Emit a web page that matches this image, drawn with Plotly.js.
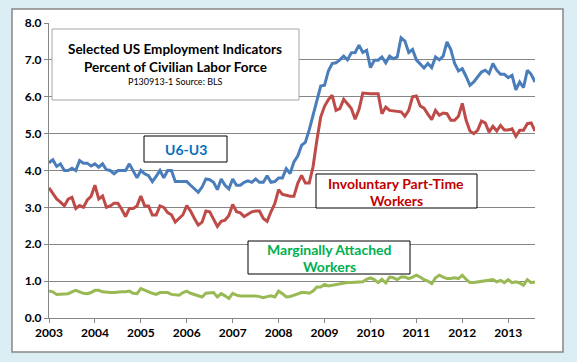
<!DOCTYPE html>
<html>
<head>
<meta charset="utf-8">
<script src="https://cdn.plot.ly/plotly-3.0.1.min.js"></script>
<style>html,body{margin:0;padding:0;background:#dbeef4;}#chart{width:577px;height:362px;}</style>
</head>
<body>
<div id="chart"></div>
<script>
// Monthly data, Jan 2003 .. Aug 2013 (percent of civilian labor force)
const startYear = 2003;
const yearTicks = [2003, 2004, 2005, 2006, 2007, 2008, 2009, 2010, 2011, 2012, 2013];
const yTicks = [0, 1, 2, 3, 4, 5, 6, 7, 8];
const yTickLabels = ["0.0", "1.0", "2.0", "3.0", "4.0", "5.0", "6.0", "7.0", "8.0"];

const u6MinusU3 = [
  4.21, 4.29, 4.11, 4.18, 4.00, 4.00, 4.06, 4.00, 4.27, 4.20, 4.20, 4.12,
  4.18, 4.09, 4.18, 4.02, 4.00, 3.91, 4.00, 4.00, 4.00, 4.18, 4.00, 3.80,
  4.00, 3.91, 3.86, 3.70, 3.84, 4.00, 3.80, 4.00, 4.00, 3.70, 3.70, 3.70,
  3.70, 3.60, 3.50, 3.41, 3.55, 3.77, 3.75, 3.68, 3.48, 3.77, 3.60, 3.50,
  3.77, 3.60, 3.60, 3.68, 3.72, 3.68, 3.77, 3.68, 3.68, 3.86, 3.68, 3.70,
  3.80, 3.80, 4.05, 3.92, 4.23, 4.39, 4.68, 4.77, 5.10, 5.50, 5.86, 6.29,
  6.31, 6.70, 6.90, 6.92, 7.00, 7.10, 7.00, 7.19, 7.20, 7.40, 7.20, 7.26,
  6.79, 6.99, 6.99, 7.08, 6.92, 7.10, 7.03, 7.08, 7.60, 7.51, 7.20, 7.28,
  7.00, 6.90, 6.78, 6.90, 6.79, 7.08, 7.00, 7.10, 7.49, 7.28, 6.90, 6.70,
  6.76, 6.55, 6.31, 6.40, 6.54, 6.67, 6.72, 6.63, 6.90, 6.72, 6.61, 6.61,
  6.52, 6.58, 6.19, 6.40, 6.25, 6.72, 6.61, 6.40
];
const involuntaryPartTime = [
  3.53, 3.38, 3.23, 3.14, 3.04, 3.22, 3.27, 2.97, 3.05, 3.00, 3.20, 3.30,
  3.60, 3.23, 3.31, 3.00, 3.04, 3.11, 3.11, 2.95, 2.75, 2.97, 2.97, 3.04,
  3.31, 3.04, 3.04, 2.79, 2.79, 3.04, 3.00, 2.86, 2.80, 2.60, 2.70, 2.80,
  3.05, 2.90, 2.70, 2.52, 2.60, 2.90, 2.88, 2.70, 2.48, 2.62, 2.65, 2.78,
  3.08, 2.88, 2.85, 2.75, 2.82, 2.88, 2.90, 2.90, 2.70, 2.62, 2.88, 3.10,
  3.48, 3.35, 3.33, 3.30, 3.30, 3.65, 3.87, 3.66, 3.66, 4.10, 4.82, 5.45,
  5.74, 5.92, 6.04, 5.63, 5.68, 5.93, 5.81, 5.68, 5.39, 5.65, 6.10, 6.08,
  6.08, 6.08, 6.08, 5.54, 5.72, 5.63, 5.62, 5.59, 5.59, 5.47, 5.63, 6.00,
  6.02, 5.75, 5.69, 5.53, 5.38, 5.63, 5.50, 5.56, 5.54, 5.36, 5.36, 5.47,
  5.82, 5.36, 5.07, 5.00, 5.09, 5.34, 5.29, 5.04, 5.20, 5.07, 5.22, 5.10,
  5.10, 5.13, 4.93, 5.09, 5.09, 5.27, 5.29, 5.07
];
const marginallyAttached = [
  0.73, 0.71, 0.64, 0.64, 0.66, 0.66, 0.71, 0.75, 0.71, 0.67, 0.66, 0.69,
  0.75, 0.75, 0.71, 0.69, 0.69, 0.69, 0.71, 0.71, 0.71, 0.73, 0.67, 0.66,
  0.80, 0.75, 0.71, 0.67, 0.64, 0.69, 0.69, 0.69, 0.64, 0.62, 0.62, 0.69,
  0.73, 0.67, 0.64, 0.62, 0.57, 0.67, 0.67, 0.69, 0.57, 0.66, 0.60, 0.53,
  0.67, 0.62, 0.60, 0.60, 0.60, 0.62, 0.60, 0.58, 0.55, 0.58, 0.60, 0.57,
  0.73, 0.66, 0.57, 0.58, 0.62, 0.67, 0.69, 0.69, 0.67, 0.73, 0.84, 0.84,
  0.91, 0.87, 0.89, 0.91, 0.93, 0.93, 0.96, 0.96, 0.96, 0.98, 0.98, 1.05,
  1.09, 1.04, 0.96, 1.05, 0.95, 1.11, 1.09, 1.04, 1.11, 1.11, 1.07, 1.11,
  1.16, 1.11, 1.04, 1.00, 0.93, 1.09, 1.16, 1.11, 1.07, 1.07, 1.09, 1.07,
  1.16, 1.05, 0.96, 0.96, 0.98, 1.00, 1.02, 1.04, 1.04, 0.98, 1.02, 0.96,
  1.04, 0.96, 0.98, 0.95, 0.89, 1.04, 0.96, 0.98
];

// x positions: month index -> decimal year
const months = u6MinusU3.map((_, i) => startYear + i / 12);

// layout geometry (pixels) -> paper coords
const W = 577, H = 362;
const M = {l: 49, r: 42, t: 23, b: 44};
const PW = W - M.l - M.r, PH = H - M.t - M.b;
const px = x => (x - M.l) / PW;
const py = y => (H - M.b - y) / PH;

const FONT = "Lato, 'Open Sans', sans-serif";

function rect(x0, y0, x1, y1, fill, line, layer, lw) {
  return {type: "rect", xref: "paper", yref: "paper", layer: layer,
    x0: px(x0), x1: px(x1), y0: py(y1), y1: py(y0),
    fillcolor: fill, line: {color: line, width: lw || 1}};
}
function label(x, y, text, size, color, bold) {
  return {xref: "paper", yref: "paper", x: px(x), y: py(y), xanchor: "center", yanchor: "middle",
    text: bold ? "<b>" + text + "</b>" : text, showarrow: false,
    font: {family: FONT, size: size, color: color}};
}

const traces = [
  {x: months, y: u6MinusU3, type: "scatter", mode: "lines", name: "U6-U3",
   line: {color: "#4a7ebb", width: 3}},
  {x: months, y: involuntaryPartTime, type: "scatter", mode: "lines", name: "Involuntary Part-Time Workers",
   line: {color: "#be4b48", width: 3}},
  {x: months, y: marginallyAttached, type: "scatter", mode: "lines", name: "Marginally Attached Workers",
   line: {color: "#98b954", width: 3}}
];

const tickFont = {family: FONT, size: 12, color: "#000", weight: "bold"};

const layout = {
  width: W, height: H,
  margin: M,
  paper_bgcolor: "#dbeef4",
  plot_bgcolor: "#dbeef4",
  showlegend: false,
  xaxis: {
    range: [startYear, startYear + (u6MinusU3.length - 1) / 12],
    tickvals: yearTicks, ticktext: yearTicks.map(String),
    showgrid: false, zeroline: false,
    showline: true, linecolor: "#868686", linewidth: 1,
    ticks: "outside", ticklen: 4, tickcolor: "#868686",
    tickfont: tickFont
  },
  yaxis: {
    range: [0, 8], tickvals: yTicks, ticktext: yTickLabels,
    showgrid: true, gridcolor: "#868686", gridwidth: 1, zeroline: false,
    showline: true, linecolor: "#868686", linewidth: 1,
    ticks: "outside", ticklen: 4, tickcolor: "#868686",
    tickfont: tickFont
  },
  shapes: [
    rect(12, 9, 563, 352, "#ffffff", "#868686", "below", 1.5),
    rect(52, 29, 299, 100, "#ffffff", "#a6a6a6", "above"),
    rect(144, 136, 227, 162, "#ffffff", "#000000", "above"),
    rect(316, 174, 477, 208, "#ffffff", "#000000", "above"),
    rect(248, 241, 410, 274, "#ffffff", "#000000", "above")
  ],
  annotations: [
    label(175, 49, "Selected US Employment Indicators", 13.5, "#000", true),
    label(175, 67, "Percent of Civilian Labor Force", 13.5, "#000", true),
    label(175, 82, "P130913-1 Source: BLS", 9, "#000", false),
    label(185.5, 149, "U6-U3", 14, "#0070c0", true),
    label(396, 183, "Involuntary Part-Time", 14, "#c00000", true),
    label(396, 200, "Workers", 14, "#c00000", true),
    label(329, 249, "Marginally Attached", 14, "#00b050", true),
    label(329, 266, "Workers", 14, "#00b050", true)
  ]
};

Plotly.newPlot("chart", traces, layout, {displayModeBar: false, staticPlot: true});
</script>
</body>
</html>
